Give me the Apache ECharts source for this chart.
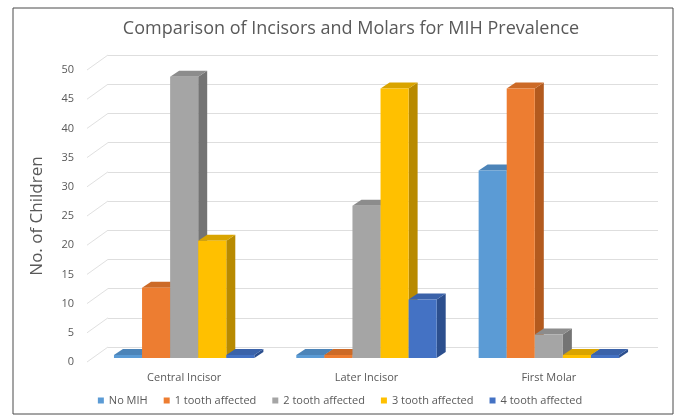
<!DOCTYPE html>
<html>
<head>
<meta charset="utf-8">
<script src="https://cdn.jsdelivr.net/npm/echarts@6/dist/echarts.min.js"></script>
<style>
  html, body { margin: 0; padding: 0; background: #ffffff; }
  #chart { width: 680px; height: 418px; }
</style>
</head>
<body>
<div id="chart"></div>
<script>
// Teeth groups on the category axis
const categories = ['Central Incisor', 'Later Incisor', 'First Molar'];

// Number of children per group, one array per severity class
const noMIH          = [0, 0, 32];
const oneAffected    = [12, 0, 46];
const twoAffected    = [48, 26, 4];
const threeAffected  = [20, 46, 0];
const fourAffected   = [0, 10, 0];

const seriesNames = ['No MIH', '1 tooth affected', '2 tooth affected', '3 tooth affected', '4 tooth affected'];
const seriesValues = [noMIH, oneAffected, twoAffected, threeAffected, fourAffected];

// Value axis ticks
const yTicks = [0, 5, 10, 15, 20, 25, 30, 35, 40, 45, 50];

// Face colours for each series: front, side, top
const palette = [
  { front: '#5B9BD5', side: '#3F6F9C', top: '#4C84B8' },
  { front: '#ED7D31', side: '#B35A1E', top: '#CC6A27' },
  { front: '#A5A5A5', side: '#747474', top: '#8C8C8C' },
  { front: '#FFC000', side: '#B88A00', top: '#D9A400' },
  { front: '#4472C4', side: '#2C4F8E', top: '#3A62A9' }
];

const TXT = '#595959';
const FONT = '"Open Sans", "Noto Sans", sans-serif';

// depth of each column (pseudo-3D)
const BAR_DX = 9, BAR_DY = -6;
// depth from the label plane to the back wall
const WALL_DX = 21, WALL_DY = -15;

const GROUP_RATIO = 0.77;
const nSeries = seriesNames.length;

function column3D(sIdx) {
  return function (params, api) {
    const cat = api.value(0);
    const val = api.value(1);
    const base = api.coord([cat, 0]);
    const topPt = api.coord([cat, val]);
    const band = api.size([1, 0])[0];
    const w = band * GROUP_RATIO / nSeries;
    const x0 = base[0] - band * GROUP_RATIO / 2 + sIdx * w;
    const x1 = x0 + w;
    const yb = base[1];
    let yt = topPt[1];
    if (yb - yt < 3) yt = yb - 3;
    const c = palette[sIdx];
    return {
      type: 'group',
      children: [
        { type: 'polygon', shape: { points: [[x1, yt], [x1 + BAR_DX, yt + BAR_DY], [x1 + BAR_DX, yb + BAR_DY], [x1, yb]] },
          style: { fill: c.side } },
        { type: 'polygon', shape: { points: [[x0, yt], [x0 + BAR_DX, yt + BAR_DY], [x1 + BAR_DX, yt + BAR_DY], [x1, yt]] },
          style: { fill: c.top } },
        { type: 'rect', shape: { x: x0, y: yt, width: w, height: yb - yt },
          style: { fill: c.front } }
      ]
    };
  };
}

const barSeries = seriesNames.map((name, s) => ({
  name: name,
  type: 'custom',
  xAxisIndex: 2,
  yAxisIndex: 2,
  z: 10,
  itemStyle: { color: palette[s].front },
  encode: { x: 0, y: 1 },
  renderItem: column3D(s),
  data: seriesValues[s].map((v, i) => [i, v])
}));

// diagonal connectors from the tick labels to the back wall
const connectorSeries = {
  type: 'custom',
  xAxisIndex: 0,
  yAxisIndex: 0,
  silent: true,
  z: 1,
  encode: { y: 0 },
  renderItem: function (params, api) {
    const p = api.coord([0, api.value(0)]);
    const xLeft = params.coordSys.x;
    return {
      type: 'line',
      shape: { x1: xLeft - WALL_DX, y1: p[1] - WALL_DY, x2: xLeft, y2: p[1] },
      style: { stroke: '#e0e0e0', lineWidth: 1 }
    };
  },
  data: yTicks.map(t => [t])
};

const chart = echarts.init(document.getElementById('chart'), null, { renderer: 'canvas' });

chart.setOption({
  backgroundColor: '#ffffff',
  animation: false,
  title: {
    text: 'Comparison of Incisors and Molars for MIH Prevalence',
    left: 346,
    textAlign: 'center',
    top: 15,
    textStyle: { color: TXT, fontSize: 18, fontWeight: 'normal', fontFamily: FONT }
  },
  legend: {
    bottom: 7,
    left: 'center',
    icon: 'rect',
    itemWidth: 6,
    itemHeight: 6,
    itemGap: 16,
    textStyle: { color: TXT, fontSize: 11, fontFamily: FONT },
    data: seriesNames
  },
  graphic: [{
    type: 'rect',
    shape: { x: 13, y: 8, width: 660, height: 406 },
    style: { fill: 'none', stroke: '#4a4a4a', lineWidth: 1 },
    z: 0
  }],
  grid: [
    // back wall
    { left: 108, right: 22, top: 55, bottom: 71 },
    // label plane
    { left: 87, right: 43, top: 70, bottom: 56 },
    // columns
    { left: 93, right: 40, top: 65, bottom: 60 }
  ],
  xAxis: [
    { gridIndex: 0, type: 'value', show: false, min: 0, max: 1 },
    { gridIndex: 1, type: 'value', show: false, min: 0, max: 1 },
    { gridIndex: 2, type: 'category', data: categories,
      axisLine: { show: false }, axisTick: { show: false },
      axisLabel: { color: TXT, fontSize: 11, fontFamily: FONT, margin: 14 } }
  ],
  yAxis: [
    { gridIndex: 0, type: 'value', min: 0, max: 50, interval: 5,
      axisLabel: { show: false }, axisLine: { show: false }, axisTick: { show: false },
      splitLine: { lineStyle: { color: '#dedede', width: 1 } } },
    { gridIndex: 1, type: 'value', min: 0, max: 50, interval: 5,
      name: 'No. of Children', nameLocation: 'middle', nameGap: 41,
      nameTextStyle: { color: TXT, fontSize: 17, fontFamily: FONT },
      axisLabel: { color: TXT, fontSize: 11, fontFamily: FONT, margin: 13 },
      axisLine: { show: false }, axisTick: { show: false }, splitLine: { show: false } },
    { gridIndex: 2, type: 'value', min: 0, max: 50, interval: 5, show: false,
      splitLine: { show: false } }
  ],
  series: [connectorSeries].concat(barSeries)
});
</script>
</body>
</html>
